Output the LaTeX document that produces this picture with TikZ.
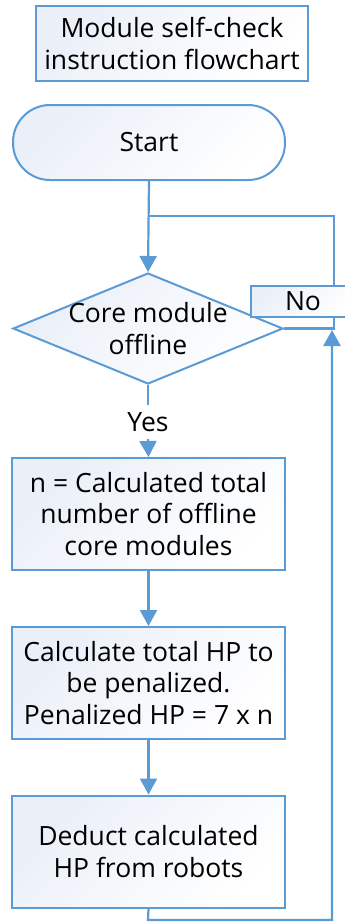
\documentclass[tikz,border=0pt]{standalone}
\usepackage{fontspec}
\setmainfont{Open Sans}
\usetikzlibrary{arrows.meta,shapes.geometric}
\definecolor{edge}{RGB}{91,155,213}
\definecolor{tint}{RGB}{234,239,248}
\begin{document}
\begin{tikzpicture}[x=1pt,y=-1pt,
  font=\fontsize{26.5}{31.5}\selectfont,
  shaded/.style={draw=edge, line width=2pt, top color=tint, bottom color=white,
    shading angle=45, align=center, inner sep=0pt},
  procbox/.style={shaded, minimum width=273pt, minimum height=112pt},
  termbox/.style={shaded, minimum width=272pt, minimum height=75pt, rounded corners=37pt},
  decision/.style={shaded, diamond, minimum width=270pt, minimum height=111pt},
  flow/.style={draw=edge, line width=2.2pt},
  arrow/.style={flow, -{Triangle[width=17pt,length=16pt]}},
  plain/.style={align=center, inner sep=0pt}
]
\clip (0,0) rectangle (345,922);
\fill[white] (0,0) rectangle (345,922);

% title
\node[shaded, minimum width=272pt, minimum height=75pt] (title) at (172,43.5)
  {Module self-check\\instruction flowchart};

% main chain
\node[termbox] (start) at (149,142.5) {Start};
\node[decision] (dec) at (148,328.5) {};
\node[plain] (dectext) at (dec.center) {Core module\\offline};
\node[plain, minimum height=34pt] (yes) at (148,422) {Yes};
\node[procbox] (calcn) at (148.5,514) {n = Calculated total\\number of offline\\core modules};
\node[procbox] (calchp) at (148.5,683) {Calculate total HP to\\be penalized.\\Penalized HP = 7 x n};
\node[procbox] (deduct) at (148.5,851.5) {Deduct calculated\\HP from robots};

% junction points of the loop
\coordinate (join) at (148,216);
\coordinate (ret) at (332,330);

\draw[arrow] (start.south) -- (dec.north);
\draw[flow] (dec.south) -- (yes.north);
\draw[arrow] (yes.south) -- (calcn.north);
\draw[arrow] (calcn.south) -- (calchp.north);
\draw[arrow] (calchp.south) -- (deduct.north);

% "No" branch back to the top
\draw[flow] (dec.east) -- (334,328.5) |- (join);
\draw[arrow] (deduct.south) -- (148,920) -| (ret);

\node[shaded, minimum width=104pt, minimum height=31pt] (no) at (303,301.5) {No};
\end{tikzpicture}
\end{document}
